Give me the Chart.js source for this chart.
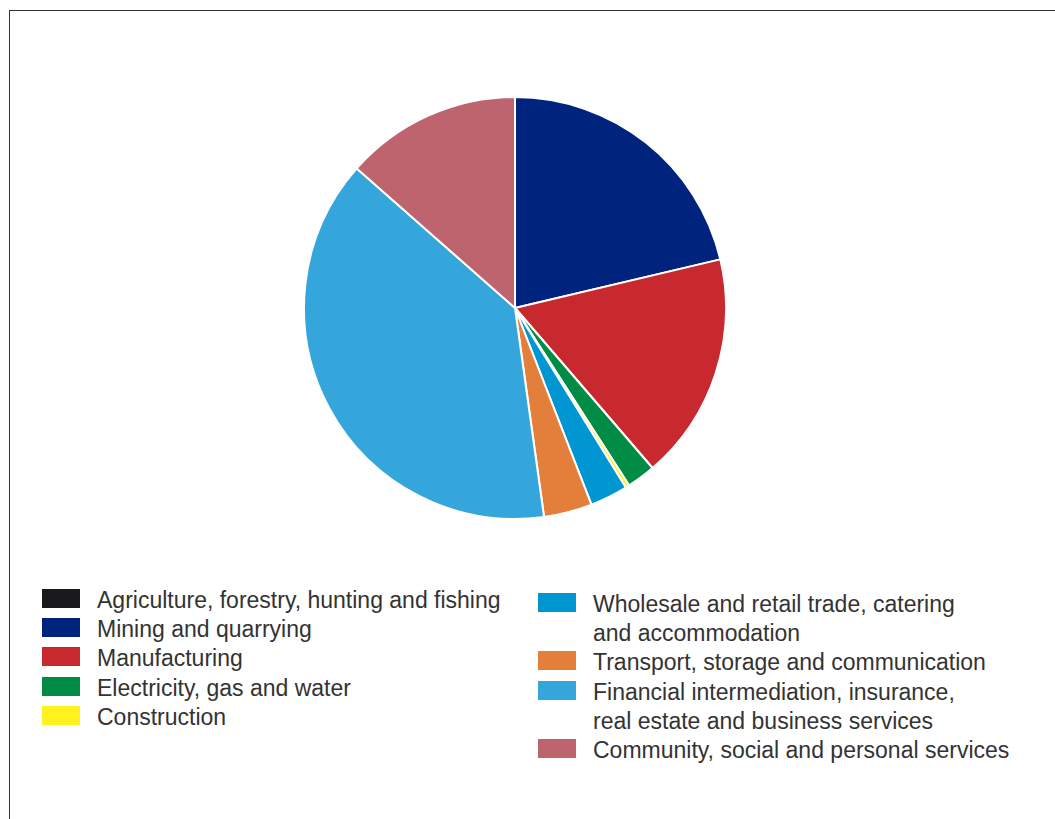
<!DOCTYPE html>
<html>
<head>
<meta charset="utf-8">
<script src="https://cdn.jsdelivr.net/npm/chart.js@4.4.1/dist/chart.umd.min.js"></script>
<style>
  html, body { margin: 0; padding: 0; background: #fff; }
  body { width: 1055px; height: 819px; position: relative; overflow: hidden; }
  #frame { position: absolute; left: 9px; top: 10px; right: -5px; bottom: -5px;
           border-left: 1.5px solid #333; border-top: 1.5px solid #333; }
  #pieWrap { position: absolute; left: 303px; top: 96px; width: 424px; height: 424px; }
  .legend { position: absolute; font-family: "Liberation Sans", Arial, sans-serif;
            font-size: 23px; color: #333; line-height: 29.2px; }
  .legend .item { position: relative; padding-left: 55px; white-space: nowrap; }
  .legend .swatch { position: absolute; left: 0; top: 3px; width: 38px; height: 19px; }
</style>
</head>
<body>
<div id="frame"></div>
<div id="pieWrap"><canvas id="pie"></canvas></div>
<div class="legend" id="legendLeft" style="left:42px; top:586px;"></div>
<div class="legend" id="legendRight" style="left:538px; top:590px;"></div>
<script>
// Sectors (share of total, %), clockwise from 12 o'clock
const sectors = [
  ['Agriculture, forestry, hunting and fishing'],
  ['Mining and quarrying'],
  ['Manufacturing'],
  ['Electricity, gas and water'],
  ['Construction'],
  ['Wholesale and retail trade, catering', 'and accommodation'],
  ['Transport, storage and communication'],
  ['Financial intermediation, insurance,', 'real estate and business services'],
  ['Community, social and personal services']
];
const shares = [0, 21.3, 17.4, 2.2, 0.3, 2.9, 3.7, 38.7, 13.5];
const colours = ['#1a1a1c', '#00247d', '#c8292f', '#008c45', '#fff21e',
                 '#0096d2', '#e37f3a', '#35a6dc', '#be646e'];

new Chart(document.getElementById('pie'), {
  type: 'pie',
  data: {
    labels: sectors.map(s => s.join(' ')),
    datasets: [{
      data: shares,
      backgroundColor: colours,
      borderColor: '#ffffff',
      borderWidth: 2
    }]
  },
  options: {
    responsive: true,
    maintainAspectRatio: false,
    animation: false,
    layout: { padding: 0 },
    plugins: {
      legend: { display: false },
      tooltip: { enabled: false }
    }
  }
});

// two-column legend, labels may wrap onto a second line
function buildLegend(el, from, to) {
  for (let i = from; i < to; i++) {
    const item = document.createElement('div');
    item.className = 'item';
    const sw = document.createElement('span');
    sw.className = 'swatch';
    sw.style.background = colours[i];
    item.appendChild(sw);
    item.insertAdjacentHTML('beforeend', sectors[i].join('<br>'));
    el.appendChild(item);
  }
}
buildLegend(document.getElementById('legendLeft'), 0, 5);
buildLegend(document.getElementById('legendRight'), 5, 9);
</script>
</body>
</html>
